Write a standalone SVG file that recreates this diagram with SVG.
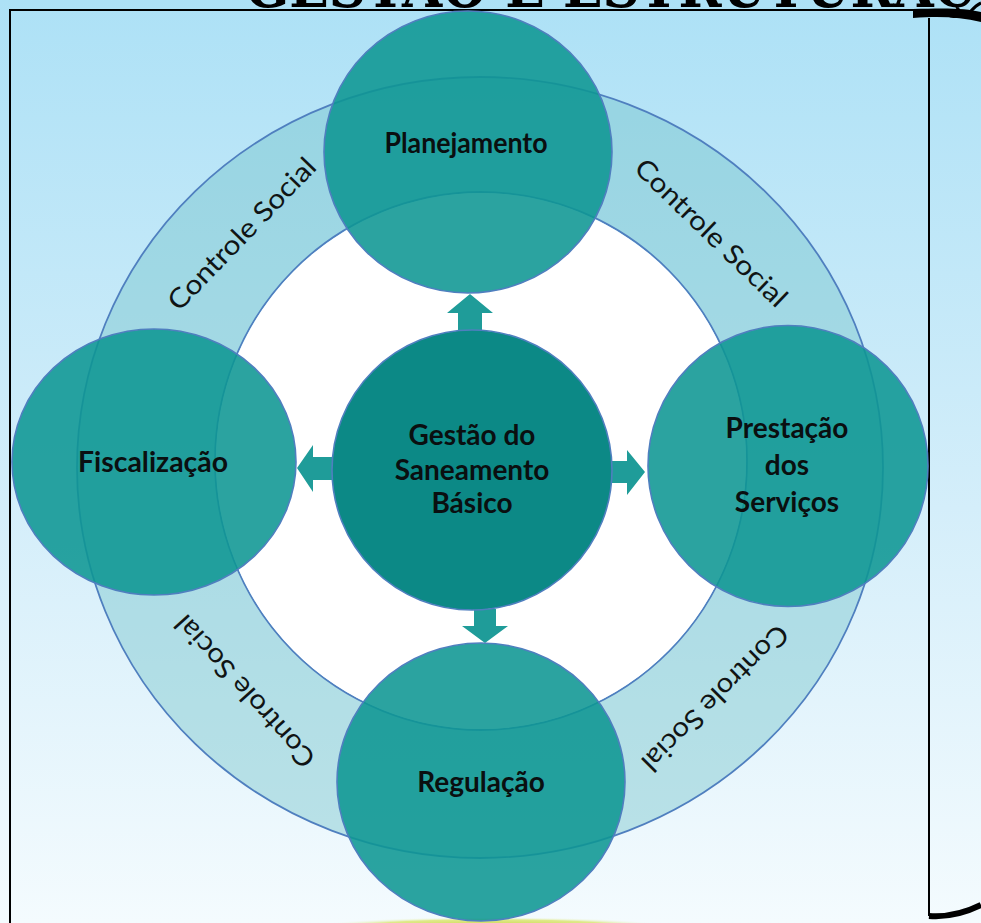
<svg xmlns="http://www.w3.org/2000/svg" width="981" height="923" viewBox="0 0 981 923">
  <defs>
    <linearGradient id="bg" x1="0" y1="0" x2="0" y2="1">
      <stop offset="0" stop-color="#ade1f6"/>
      <stop offset="0.55" stop-color="#d4eefa"/>
      <stop offset="1" stop-color="#f4fbfe"/>
    </linearGradient>
    <radialGradient id="glow" cx="0.5" cy="0.5" r="0.5">
      <stop offset="0" stop-color="#c9d84a"/>
      <stop offset="0.7" stop-color="#dfe98a"/>
      <stop offset="1" stop-color="#f4fbfe" stop-opacity="0"/>
    </radialGradient>
    <style>
      .node { fill: #0e9693; fill-opacity: 0.88; stroke: #4f7fbf; stroke-width: 1.6; }
      .core { fill: #0c8986; stroke: #4f7fbf; stroke-width: 1.6; }
      .ring { fill: #6fc0c8; fill-opacity: 0.42; stroke: #4f7fbf; stroke-width: 1.8; }
      .arrow { fill: #1f9c99; }
      .lbl { font-family: Lato, "Open Sans", "Liberation Sans", sans-serif; font-weight: bold; font-size: 28px; fill: #0a0f10; text-anchor: middle; }
      .cs { font-family: Lato, "Open Sans", "Liberation Sans", sans-serif; font-size: 27px; fill: #101414; text-anchor: middle; dominant-baseline: central; }
      .title { font-family: "DejaVu Serif", "Liberation Serif", serif; font-weight: bold; font-size: 58px; fill: #000; }
    </style>
  </defs>

  <!-- background -->
  <rect x="0" y="0" width="981" height="923" fill="url(#bg)"/>
  <ellipse cx="492" cy="926" rx="175" ry="9" fill="url(#glow)"/>

  <!-- cut-off title -->
  <text class="title" x="245" y="7" textLength="730" lengthAdjust="spacingAndGlyphs">GESTÃO E ESTRUTURAÇ</text>

  <!-- frame -->
  <g id="frame" fill="none" stroke="#000">
    <path d="M10,923 V10 H914" stroke-width="2"/>
    <path d="M929,18 V916" stroke-width="2"/>
    <path d="M913,9 L913,18 C940,16 960,17 981,22 L981,12 C966,8 945,8 913,9 Z" fill="#000" stroke="none"/>
    <path d="M968,14 C972,10 976,5 981,3" stroke-width="3"/>
    <path d="M929,916 Q955,918 981,905" stroke-width="6"/>
  </g>

  <!-- social control ring -->
  <g id="ring">
    <path class="ring" fill-rule="evenodd" d="M77,467.5 A403,390.5 0 1,0 883,467.5 A403,390.5 0 1,0 77,467.5 Z M215,461 A266,269 0 1,0 747,461 A266,269 0 1,0 215,461 Z"/>
    <ellipse cx="481" cy="461" rx="265" ry="268" fill="#ffffff"/>
    <text class="cs" transform="translate(241,233) rotate(-46)" textLength="200" lengthAdjust="spacingAndGlyphs">Controle Social</text>
    <text class="cs" transform="translate(712,232) rotate(44)" textLength="200" lengthAdjust="spacingAndGlyphs">Controle Social</text>
    <text class="cs" transform="translate(716,699) rotate(135)" textLength="195" lengthAdjust="spacingAndGlyphs">Controle Social</text>
    <text class="cs" transform="translate(244,692) rotate(-132)" textLength="195" lengthAdjust="spacingAndGlyphs">Controle Social</text>
  </g>

  <!-- connectors -->
  <g id="connectors">
    <polygon class="arrow" points="470,294 493,313 482,313 482,331 458,331 458,313 447,313"/>
    <polygon class="arrow" points="297,468 313,445 313,457 333,457 333,480 313,480 313,492"/>
    <polygon class="arrow" points="645,472 627,450 627,461 611,461 611,483 627,483 627,495"/>
    <polygon class="arrow" points="474,609 496,609 496,626 508,626 485,643 462,626 474,626"/>
  </g>

  <g id="planejamento">
    <ellipse class="node" cx="468" cy="152" rx="144" ry="141"/>
    <text class="lbl" x="466" y="153" font-size="25" textLength="163" lengthAdjust="spacingAndGlyphs">Planejamento</text>
  </g>
  <g id="fiscalizacao">
    <ellipse class="node" cx="154" cy="462" rx="142" ry="133"/>
    <text class="lbl" x="153" y="472" textLength="150" lengthAdjust="spacingAndGlyphs">Fiscalização</text>
  </g>
  <g id="prestacao">
    <ellipse class="node" cx="788" cy="466" rx="140" ry="140.5"/>
    <text class="lbl" x="787" y="438">Prestação</text>
    <text class="lbl" x="787" y="475">dos</text>
    <text class="lbl" x="787" y="512">Serviços</text>
  </g>
  <g id="regulacao">
    <ellipse class="node" cx="481" cy="782" rx="144" ry="139"/>
    <text class="lbl" x="481" y="792">Regulação</text>
  </g>
  <g id="gestao">
    <circle class="core" cx="472" cy="470" r="140"/>
    <text class="lbl" x="472" y="445">Gestão do</text>
    <text class="lbl" x="472" y="480">Saneamento</text>
    <text class="lbl" x="472" y="513">Básico</text>
  </g>
</svg>
